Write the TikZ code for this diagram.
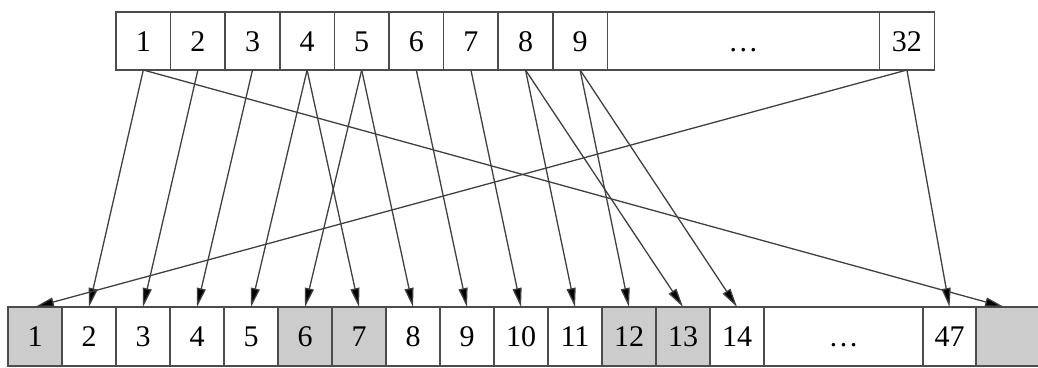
\documentclass[tikz,border=0pt]{standalone}
\usepackage{fontspec}
\setmainfont{Liberation Serif}
\usetikzlibrary{positioning,arrows.meta}

\begin{document}
\begin{tikzpicture}[
    x=1pt, y=1pt,
    font=\fontsize{30}{32}\selectfont,
    node distance=0pt,
    cell/.style    = {rectangle, draw=black!70, line width=1.7pt, inner sep=0pt,
                      outer sep=0pt, minimum width=54.6pt, minimum height=58pt,
                      text height=20pt, text depth=0pt},
    lowcell/.style = {cell, minimum width=54pt, minimum height=59pt},
    shaded/.style  = {fill=black!20},
    link/.style    = {draw=black!75, line width=1.3pt,
                      -{Triangle[length=19pt, width=9pt, fill=black]}}
]
\useasboundingbox (0,0) rectangle (1038,-367);

% --- Top row -----------------------------------------------------------------
\node[cell]                                     (t1) at (143.3,-41) {1};
\node[cell, right=of t1]                        (t2) {2};
\node[cell, right=of t2]                        (t3) {3};
\node[cell, right=of t3]                        (t4) {4};
\node[cell, right=of t4]                        (t5) {5};
\node[cell, right=of t5]                        (t6) {6};
\node[cell, right=of t6]                        (t7) {7};
\node[cell, right=of t7]                        (t8) {8};
\node[cell, right=of t8]                        (t9) {9};
\node[cell, right=of t9, minimum width=272pt]   (tdots) {\ldots};
\node[cell, right=of tdots, minimum width=55pt] (t32) {32};

% --- Bottom row --------------------------------------------------------------
\node[lowcell, shaded]                          (b1) at (35,-336.5) {1};
\node[lowcell,         right=of b1]             (b2) {2};
\node[lowcell,         right=of b2]             (b3) {3};
\node[lowcell,         right=of b3]             (b4) {4};
\node[lowcell,         right=of b4]             (b5) {5};
\node[lowcell, shaded, right=of b5]             (b6) {6};
\node[lowcell, shaded, right=of b6]             (b7) {7};
\node[lowcell,         right=of b7]             (b8) {8};
\node[lowcell,         right=of b8]             (b9) {9};
\node[lowcell,         right=of b9]             (b10) {10};
\node[lowcell,         right=of b10]            (b11) {11};
\node[lowcell, shaded, right=of b11]            (b12) {12};
\node[lowcell, shaded, right=of b12]            (b13) {13};
\node[lowcell,         right=of b13]            (b14) {14};
\node[lowcell, right=of b14, minimum width=159pt] (bdots) {\ldots};
\node[lowcell, right=of bdots, minimum width=53pt] (b47) {47};
\node[lowcell, shaded, right=of b47, minimum width=64pt] (bend) {};

% --- Links -------------------------------------------------------------------
\draw[link] (t1.south)  -- (b2.north);
\draw[link] (t1.south)  -- ([xshift=-4pt]bend.north);
\draw[link] (t2.south)  -- (b3.north);
\draw[link] (t3.south)  -- (b4.north);
\draw[link] (t4.south)  -- (b5.north);
\draw[link] (t4.south)  -- (b7.north);
\draw[link] (t5.south)  -- (b6.north);
\draw[link] (t5.south)  -- (b8.north);
\draw[link] (t6.south)  -- (b9.north);
\draw[link] (t7.south)  -- (b10.north);
\draw[link] (t8.south)  -- (b11.north);
\draw[link] (t8.south)  -- (b13.north);
\draw[link] (t9.south)  -- (b12.north);
\draw[link] (t9.south)  -- (b14.north);
\draw[link] (t32.south) -- (b47.north);
\draw[link] (t32.south) -- (b1.north);

\end{tikzpicture}
\end{document}
